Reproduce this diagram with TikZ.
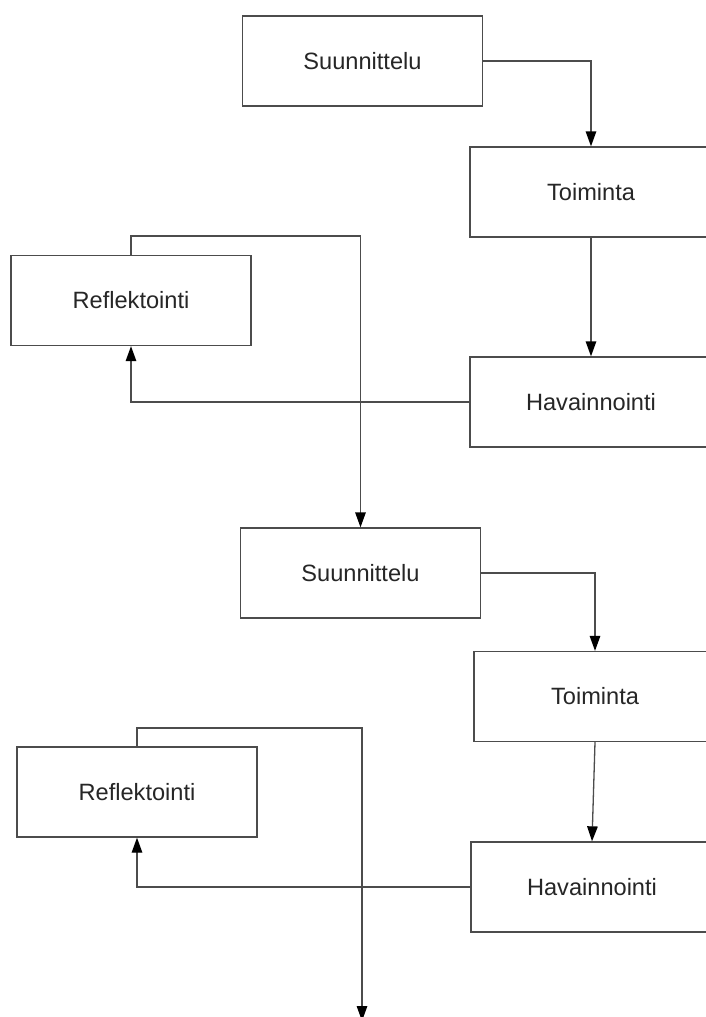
\documentclass[tikz,border=0pt]{standalone}
\usepackage{fontspec}
\setmainfont{Liberation Sans}
\usetikzlibrary{arrows.meta}
\begin{document}
\begin{tikzpicture}[x=1pt,y=-1pt,
  stepbox/.style={draw=black!70, line width=1.3pt, fill=white, rectangle,
    minimum width=240pt, minimum height=90pt, inner sep=0pt,
    font=\fontsize{23.6}{28}\selectfont, text=black!85},
  widebox/.style={stepbox, minimum width=242pt},
  conn/.style={draw=black!70, line width=1.3pt,
    -{Triangle[length=15pt,width=10.5pt,fill=black,color=black]}}]
\fill[white] (0,0) rectangle (706,1017);
\useasboundingbox (0,0) rectangle (706,1017);

\node[stepbox] (s1) at (362.5,61) {Suunnittelu};
\node[widebox] (t1) at (591,192) {Toiminta};
\node[stepbox] (r1) at (131,300.5) {Reflektointi};
\node[widebox] (h1) at (591,402) {Havainnointi};

\node[stepbox] (s2) at (360.5,573) {Suunnittelu};
\node[widebox] (t2) at (595,696.5) {Toiminta};
\node[stepbox] (r2) at (137,792) {Reflektointi};
\node[widebox] (h2) at (592,887) {Havainnointi};

\coordinate (loop1) at (360.5,236);
\coordinate (loop2) at (362,728);
\coordinate (endpt) at (362,1021);

\draw[conn] (s1.east) -| (t1.north);
\draw[conn] (t1.south) -- (h1.north);
\draw[conn] (h1.west) -| (r1.south);
\draw[conn] (r1.north) |- (loop1) -- (s2.north);

\draw[conn] (s2.east) -| (t2.north);
\draw[conn] (t2.south) -- (h2.north);
\draw[conn] (h2.west) -| (r2.south);
\draw[conn] (r2.north) |- (loop2) -- (endpt);
\end{tikzpicture}
\end{document}
